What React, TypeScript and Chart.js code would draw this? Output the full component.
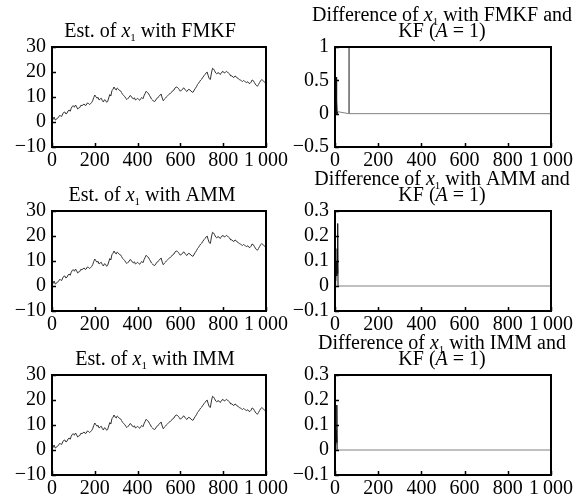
import React, { useEffect, useRef } from "react";
import { Chart, registerables } from "chart.js";

Chart.register(...registerables);

// ---------- data ----------
const estStep = 5;
const estFMKF = [
  0, 1.2, 2, 0.8, 1, 1.6, 1.8, 2.6, 2.5, 2.2, 3.2, 3.9, 4, 3.2, 3.5, 4.4, 4.8, 4.3, 5.5, 6.3,
  6.5, 5.9, 6.8, 6.1, 5.2, 5.6, 5.8, 6.7, 6.5, 6.9, 7.2, 6.6, 6.8, 7.6, 7.5, 7.0, 7.3, 7.8, 8.5, 9.8,
  10.8, 10.1, 9.5, 9.9, 8.8, 9.2, 9.5, 8.6, 8, 8.9, 8.7, 7.9, 8.2, 9.6, 11, 10.4, 12.5, 13.1, 14, 13.2,
  12.8, 13.6, 13.2, 12.6, 12.5, 11.8, 11, 10.6, 10.2, 9.4, 9, 9.5, 9.8, 10.6, 10.3, 9.6, 9.2, 9.7, 8.8, 9.1,
  9.5, 9.0, 8.7, 9.4, 9.8, 9.3, 10.5, 11.4, 12.3, 11.8, 11.5, 10.7, 10, 9.2, 8.8, 8.3, 8.2, 8.8, 9.5, 9.8,
  10.2, 10.8, 11.2, 9.6, 8.5, 9.1, 9.5, 10.1, 10.5, 10.9, 11.2, 11.7, 12, 12.6, 12.8, 13.6, 14, 13.9, 13.5, 12.9,
  12.3, 12.8, 13, 13.7, 13.2, 12.6, 12.2, 12.8, 13.1, 12.7, 12.4, 11.9, 12, 12.8, 13.5, 14.1, 15, 15.5, 16.2, 16.8,
  17.2, 17.9, 18.5, 19.0, 19.6, 20.0, 18.5, 17.3, 17, 19.6, 21.5, 21.2, 20.5, 19.6, 19.2, 19.8, 19.6, 19.0, 19.4, 20.1,
  20.2, 19.6, 19.8, 20.3, 20, 19.5, 19.2, 18.4, 18.5, 18.0, 17.8, 18.4, 18.2, 17.6, 17.4, 17.0, 16.8, 16.5, 16.2, 16.6,
  16.3, 16.0, 15.8, 16.1, 15.5, 15.4, 15.9, 16.8, 16.6, 15.9, 15.2, 14.6, 14.3, 15.0, 15.8, 16.5, 17, 16.6, 16.2, 15.8,
  15.6,
];
const estAMM = estFMKF;
const estIMM = estFMKF;

const diffFMKFSteps = [0, 1, 2, 3, 4, 5, 6, 7, 8, 9, 10, 12, 64, 65, 66, 1000];
const diffFMKFValues = [0, 0.3, 0.05, 0.25, 0.1, 0.55, 0.02, 0.35, 0, 0.2, 0, 0.03, 0, 1.0, 0, 0];

const diffAMMSteps = [0, 2, 4, 6, 8, 10, 12, 13, 14, 16, 1000];
const diffAMMValues = [0, 0.05, 0.02, 0.1, 0.04, 0.15, 0.05, 0.25, 0, 0, 0];

const diffIMMSteps = [0, 2, 4, 6, 8, 9, 10, 12, 1000];
const diffIMMValues = [0, 0.04, 0.02, 0.08, 0.03, 0.18, 0, 0, 0];

const xTickValues = [0, 200, 400, 600, 800, 1000];
const xTickLabels = ["0", "200", "400", "600", "800", "1\u2009000"];
const estYTickValues = [-10, 0, 10, 20, 30];
const estYTickLabels = ["\u221210", "0", "10", "20", "30"];
const diffTopYTickValues = [-0.5, 0, 0.5, 1];
const diffTopYTickLabels = ["\u22120.5", "0", "0.5", "1"];
const diffYTickValues = [-0.1, 0, 0.1, 0.2, 0.3];
const diffYTickLabels = ["\u22120.1", "0", "0.1", "0.2", "0.3"];

// ---------- styles ----------
const FONT = "'Liberation Serif', 'Times New Roman', serif";
const FS = 20;

type Seg = { t: string; italic?: boolean; sub?: boolean };
type TitleLine = { y: number; segs: Seg[] };

function drawRich(ctx: CanvasRenderingContext2D, line: TitleLine, cx: number, size: number) {
  const fontOf = (s: Seg) =>
    `${s.italic ? "italic " : ""}${s.sub ? Math.round(size * 0.55) : size}px ${FONT}`;
  let total = 0;
  const widths = line.segs.map((s) => {
    ctx.font = fontOf(s);
    const w = ctx.measureText(s.t).width;
    total += w;
    return w;
  });
  let x = cx - total / 2;
  ctx.fillStyle = "#000";
  ctx.textBaseline = "alphabetic";
  ctx.textAlign = "left";
  line.segs.forEach((s, i) => {
    ctx.font = fontOf(s);
    ctx.fillText(s.t, x, line.y + (s.sub ? 4 : 0));
    x += widths[i];
  });
}

type Panel = {
  left: number;
  top: number;
  padRight: number;
  yWidth: number;
  xs: number[];
  ys: number[];
  ymin: number;
  ymax: number;
  yTicks: number[];
  yLabels: string[];
  color: string;
  darkUntil?: number;
  title: TitleLine[];
  titleCx: number;
};

const estTitle = (name: string): TitleLine[] => [
  {
    y: 37,
    segs: [{ t: "Est. of " }, { t: "x", italic: true }, { t: "1", sub: true }, { t: " with " + name }],
  },
];
const diffTitle = (name: string): TitleLine[] => [
  {
    y: 21,
    segs: [
      { t: "Difference of " },
      { t: "x", italic: true },
      { t: "1", sub: true },
      { t: " with " + name + " and" },
    ],
  },
  { y: 37, segs: [{ t: "KF (" }, { t: "A", italic: true }, { t: " = 1)" }] },
];

const estXs = estFMKF.map((_, i) => i * estStep);

const panels: Panel[] = [
  {
    left: 0, top: 0, padRight: 26, yWidth: 52, xs: estXs, ys: estFMKF, ymin: -10, ymax: 30,
    yTicks: estYTickValues, yLabels: estYTickLabels, color: "#333", title: estTitle("FMKF"), titleCx: 150,
  },
  {
    left: 292, top: 0, padRight: 33, yWidth: 43, xs: diffFMKFSteps, ys: diffFMKFValues, ymin: -0.5, ymax: 1,
    yTicks: diffTopYTickValues, yLabels: diffTopYTickLabels, color: "#808080", darkUntil: 12,
    title: diffTitle("FMKF"), titleCx: 150,
  },
  {
    left: 0, top: 164, padRight: 26, yWidth: 52, xs: estXs, ys: estAMM, ymin: -10, ymax: 30,
    yTicks: estYTickValues, yLabels: estYTickLabels, color: "#333", title: estTitle("AMM"), titleCx: 152,
  },
  {
    left: 292, top: 164, padRight: 33, yWidth: 43, xs: diffAMMSteps, ys: diffAMMValues, ymin: -0.1, ymax: 0.3,
    yTicks: diffYTickValues, yLabels: diffYTickLabels, color: "#808080", darkUntil: 14,
    title: diffTitle("AMM"), titleCx: 150,
  },
  {
    left: 0, top: 328, padRight: 26, yWidth: 52, xs: estXs, ys: estIMM, ymin: -10, ymax: 30,
    yTicks: estYTickValues, yLabels: estYTickLabels, color: "#333", title: estTitle("IMM"), titleCx: 155,
  },
  {
    left: 292, top: 328, padRight: 33, yWidth: 43, xs: diffIMMSteps, ys: diffIMMValues, ymin: -0.1, ymax: 0.3,
    yTicks: diffYTickValues, yLabels: diffYTickLabels, color: "#808080", darkUntil: 10,
    title: diffTitle("IMM"), titleCx: 150,
  },
];

const CW = 292;
const CH = 171;

function PanelChart({ p }: { p: Panel }) {
  const ref = useRef<HTMLCanvasElement | null>(null);
  useEffect(() => {
    if (!ref.current) return;
    const framePlugin = {
      id: "frame",
      afterDraw(chart: any) {
        const { ctx, chartArea } = chart;
        const { left, right, top, bottom } = chartArea;
        ctx.save();
        ctx.strokeStyle = "#000";
        ctx.lineWidth = 1.5;
        const xs = chart.scales.x;
        const ys = chart.scales.y;
        ctx.beginPath();
        xTickValues.forEach((v) => {
          const px = Math.round(xs.getPixelForValue(v)) + 0.5;
          ctx.moveTo(px, bottom);
          ctx.lineTo(px, bottom - 4);
        });
        p.yTicks.forEach((v) => {
          const py = Math.round(ys.getPixelForValue(v)) + 0.5;
          ctx.moveTo(left, py);
          ctx.lineTo(left + 4, py);
        });
        ctx.stroke();
        ctx.lineWidth = 2;
        ctx.strokeRect(left, top, right - left, bottom - top);
        p.title.forEach((line) => drawRich(ctx, line, p.titleCx, FS));
        ctx.restore();
      },
    };
    const chart = new Chart(ref.current, {
      type: "line",
      data: {
        datasets: [
          {
            data: p.xs.map((x, i) => ({ x, y: p.ys[i] })),
            borderColor: p.color,
            borderWidth: 1,
            pointRadius: 0,
            tension: 0,
            segment: p.darkUntil
              ? {
                  borderColor: (c: any) => (c.p1.parsed.x <= p.darkUntil! ? "#111" : p.color),
                }
              : undefined,
          },
        ],
      },
      options: {
        animation: false,
        responsive: false,
        maintainAspectRatio: false,
        events: [],
        layout: { padding: { left: 0, top: 47, right: p.padRight, bottom: 0 } },
        plugins: { legend: { display: false }, tooltip: { enabled: false }, title: { display: false } },
        scales: {
          x: {
            type: "linear",
            min: 0,
            max: 1000,
            afterBuildTicks: (s: any) => {
              s.ticks = xTickValues.map((v) => ({ value: v }));
            },
            afterFit: (s: any) => {
              s.height = CH - 47 - 100;
              s.paddingLeft = 0;
              s.paddingRight = 0;
            },
            ticks: {
              autoSkip: false,
              maxRotation: 0,
              padding: 2,
              color: "#000",
              font: { family: FONT, size: FS },
              callback: (_v: any, i: number) => xTickLabels[i],
            },
            grid: { display: false, drawTicks: false },
            border: { display: false },
          },
          y: {
            type: "linear",
            min: p.ymin,
            max: p.ymax,
            afterBuildTicks: (s: any) => {
              s.ticks = p.yTicks.map((v) => ({ value: v }));
            },
            afterFit: (s: any) => {
              s.width = p.yWidth;
              s.paddingTop = 0;
              s.paddingBottom = 0;
            },
            ticks: {
              autoSkip: false,
              padding: 6,
              color: "#000",
              font: { family: FONT, size: FS },
              callback: (_v: any, i: number) => p.yLabels[i],
            },
            grid: { display: false, drawTicks: false },
            border: { display: false },
          },
        },
      },
      plugins: [framePlugin],
    } as any);
    return () => chart.destroy();
  }, [p]);
  return (
    <canvas
      ref={ref}
      width={CW}
      height={CH}
      style={{ position: "absolute", left: p.left, top: p.top, width: CW, height: CH }}
    />
  );
}

export default function App() {
  return (
    <div style={{ position: "absolute", left: 0, top: 0, width: 584, height: 499, background: "#fff" }}>
      {panels.map((p, i) => (
        <PanelChart key={i} p={p} />
      ))}
    </div>
  );
}
